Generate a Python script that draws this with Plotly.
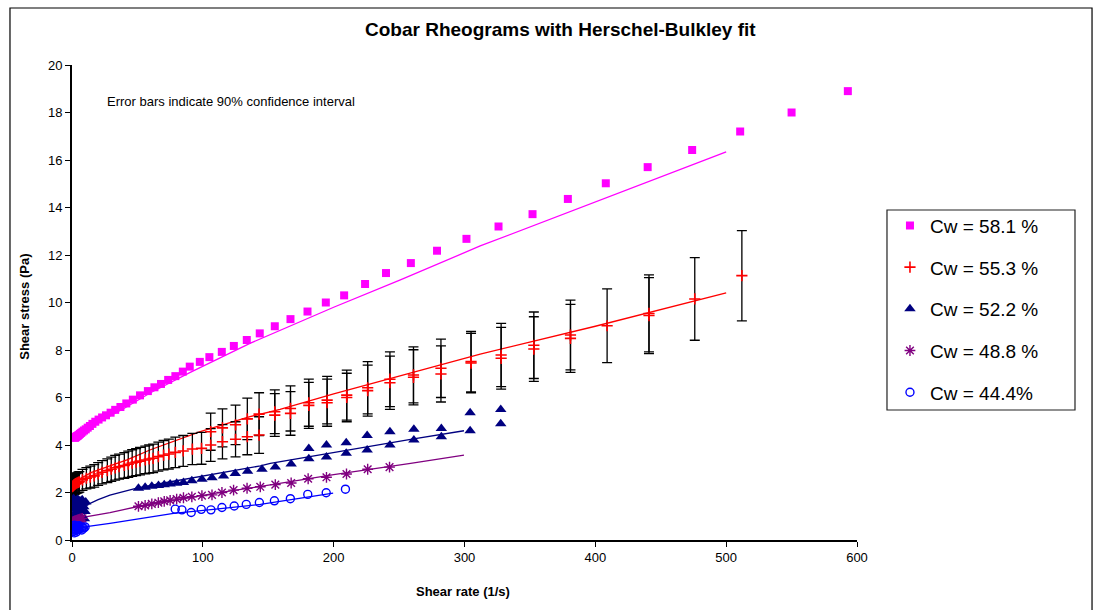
import plotly.graph_objects as go

# ---------------- data ----------------
# Cw = 58.1 %
mag_x = [2.2, 2.6, 3.0, 3.5, 4.0, 4.6, 5.3, 6.1, 7.0, 8.0, 9.2, 10.5, 12, 13.7, 15.6, 17.8, 20.3, 23, 26,
         29.5, 33, 37, 41.5, 46.5, 52, 58, 63, 68, 73.5, 79, 84.7, 90, 97.7, 105, 114.5, 123.7, 133.6,
         143.5, 155, 167, 180, 194, 208, 224, 240, 259, 279, 301.5, 326, 352, 379, 408, 440, 474,
         510.7, 550, 593]
mag_y = [4.30, 4.32, 4.34, 4.36, 4.38, 4.40, 4.43, 4.47, 4.51, 4.56, 4.61, 4.66, 4.73, 4.80, 4.89, 4.98,
         5.07, 5.16, 5.25, 5.36, 5.48, 5.60, 5.75, 5.91, 6.09, 6.27, 6.43, 6.57, 6.74, 6.90, 7.09, 7.30,
         7.50, 7.70, 7.92, 8.17, 8.42, 8.70, 9.00, 9.30, 9.62, 10.0, 10.3, 10.78, 11.24, 11.66, 12.18,
         12.68, 13.2, 13.72, 14.36, 15.02, 15.7, 16.42, 17.2, 18.0, 18.9]
mag_fit_x = [1, 5, 10, 20, 40, 60, 90, 136, 200, 251, 312, 403, 500]
mag_fit_y = [4.2, 4.42, 4.62, 4.95, 5.55, 6.2, 7.05, 8.28, 9.8, 10.95, 12.38, 14.3, 16.34]

# Cw = 55.3 %  (two runs)
red_a_x = [0.3, 0.6, 1.0, 1.4, 1.8, 2.3, 2.8, 3.4, 4.0, 4.8, 5.6, 8, 11, 14, 17, 20, 23, 27, 30, 33, 36,
           40, 43, 46, 49, 52, 56, 59, 62, 66, 70, 74, 79, 85, 92, 99, 106, 115, 125, 134, 143, 155, 167,
           181, 195, 210, 226, 243, 261, 282, 305, 328, 353, 381, 441]
red_a_y = [2.25, 2.27, 2.29, 2.31, 2.33, 2.35, 2.37, 2.39, 2.41, 2.43, 2.45, 2.53, 2.6, 2.65, 2.7, 2.78,
           2.85, 2.92, 2.98, 3.04, 3.09, 3.14, 3.19, 3.24, 3.28, 3.32, 3.37, 3.41, 3.44, 3.51, 3.57, 3.62,
           3.69, 3.75, 3.83, 3.86, 4.0, 4.14, 4.24, 4.35, 4.42, 5.26, 5.33, 5.67, 5.78, 6.0, 6.29, 6.62,
           6.85, 6.99, 7.45, 7.65, 8.04, 8.49, 9.45]
red_a_err = [0.40, 0.40, 0.40, 0.41, 0.41, 0.41, 0.42, 0.42, 0.42, 0.43, 0.43, 0.44, 0.45, 0.46, 0.47,
             0.48, 0.49, 0.50, 0.51, 0.52, 0.53, 0.54, 0.55, 0.56, 0.57, 0.58, 0.58, 0.59, 0.60, 0.61,
             0.62, 0.63, 0.64, 0.65, 0.66, 0.67, 0.69, 0.72, 0.74, 0.76, 0.77, 0.90, 0.92, 0.97, 0.99,
             1.02, 1.07, 1.12, 1.16, 1.18, 1.25, 1.30, 1.36, 1.43, 1.60]
red_b_x = [106, 115, 125, 134, 143, 155, 167, 181, 195, 210, 226, 243, 261, 282, 305, 328, 353, 381, 409,
           441, 476, 512]
red_b_y = [4.56, 4.72, 4.85, 5.1, 5.3, 5.4, 5.54, 5.78, 5.89, 6.1, 6.41, 6.77, 6.95, 7.23, 7.51, 7.79,
           8.2, 8.63, 9.02, 9.54, 10.15, 11.13]
red_b_err = [0.78, 0.80, 0.83, 0.87, 0.90, 0.92, 0.95, 0.99, 1.00, 1.05, 1.10, 1.15, 1.18, 1.23, 1.27,
             1.33, 1.40, 1.47, 1.55, 1.62, 1.74, 1.90]
red_fit_x = [0.5, 5, 15, 30, 42, 60, 98, 136, 159, 200, 250, 312, 400, 500]
red_fit_y = [2.25, 2.55, 2.85, 3.15, 3.37, 3.8, 4.56, 5.19, 5.5, 6.15, 6.9, 7.83, 9.0, 10.41]

# Cw = 52.2 %
navy_x = [0.5, 0.8, 1.0, 1.3, 1.6, 2.0, 2.4, 2.8, 3.2, 3.6, 4.0, 4.5, 5.0, 5.5, 6.0, 6.8, 7.5, 8.3, 9.0,
          10.0, 10.5, 1.2, 2.2, 3.0, 4.2, 5.2, 6.5, 7.8, 9.5, 50.8, 55.9, 61, 66.1, 70.5, 75, 80, 85.2,
          91.6, 99.3, 107, 115.8, 124.8, 134.2, 145.2, 155.4, 167.5, 181, 181, 194.5, 194.5, 209.6,
          209.6, 225.6, 225.6, 243, 243, 261.3, 261.3, 282.3, 282.3, 304.3, 304.3, 327.7, 327.7]
navy_y = [1.0, 1.55, 0.85, 1.3, 1.7, 1.1, 0.8, 1.45, 1.6, 1.2, 0.9, 1.5, 1.35, 1.05, 1.65, 1.25, 0.95,
          1.55, 1.4, 1.2, 1.6, 1.75, 1.35, 1.0, 1.72, 0.8, 1.45, 1.7, 0.9, 2.18, 2.22, 2.26, 2.3, 2.33,
          2.36, 2.39, 2.42, 2.5, 2.56, 2.62, 2.69, 2.8, 2.9, 2.98, 3.07, 3.2, 3.42, 3.85, 3.5, 4.0, 3.65,
          4.1, 3.79, 4.4, 4.0, 4.56, 4.21, 4.66, 4.35, 4.7, 4.6, 5.36, 4.9, 5.5]
navy_fit_x = [1, 5, 11, 20, 29, 40, 49.5, 70, 100, 144, 151.6, 200, 258.8, 299.6]
navy_fit_y = [1.15, 1.35, 1.47, 1.7, 1.89, 2.06, 2.18, 2.4, 2.7, 3.12, 3.23, 3.7, 4.24, 4.6]

# Cw = 48.8 %
pur_x = [0.5, 1, 1.5, 2, 3, 4, 5, 6, 7, 8, 50.8, 55.9, 61, 66, 70.5, 75, 80, 85.2, 91.6, 99.3, 107,
         114.6, 123.5, 133.8, 143.9, 155.4, 167.5, 180.5, 194.5, 209.8, 226, 242.7]
pur_y = [0.72, 0.76, 0.78, 0.8, 0.82, 0.84, 0.86, 0.88, 0.9, 0.91, 1.42, 1.46, 1.52, 1.57, 1.63, 1.67,
         1.72, 1.78, 1.82, 1.87, 1.9, 2.0, 2.1, 2.18, 2.24, 2.33, 2.4, 2.58, 2.64, 2.78, 2.98, 3.07]
pur_fit_x = [0.5, 5, 11.5, 29, 49.5, 80, 110, 151.6, 200, 258.8, 299.6]
pur_fit_y = [0.72, 0.85, 0.98, 1.15, 1.4, 1.7, 1.97, 2.32, 2.75, 3.23, 3.57]

# Cw = 44.4 %
blue_x = [0.5, 0.8, 1.0, 1.3, 1.6, 2.0, 2.5, 3.0, 3.5, 4.0, 4.5, 5.0, 6.0, 7.0, 8.0, 9.0, 10.0, 1.8,
          3.2, 5.5, 7.5, 78.9, 84, 91.1, 98.8, 106.2, 114.6, 124, 133.2, 143.2, 154.7, 166.9, 180.2,
          194.3, 209]
blue_y = [0.35, 0.5, 0.42, 0.6, 0.3, 0.48, 0.55, 0.4, 0.52, 0.45, 0.58, 0.5, 0.47, 0.55, 0.52, 0.5,
          0.55, 0.62, 0.33, 0.6, 0.42, 1.3, 1.27, 1.16, 1.29, 1.27, 1.37, 1.43, 1.5, 1.58, 1.65, 1.74,
          1.92, 1.99, 2.14]
blue_fit_x = [0.5, 5, 11, 29, 49.5, 77.6, 110, 144, 170, 199.6]
blue_fit_y = [0.4, 0.48, 0.56, 0.7, 0.87, 1.12, 1.3, 1.5, 1.72, 1.97]

x_ticks = [0, 100, 200, 300, 400, 500, 600]
y_ticks = [0, 2, 4, 6, 8, 10, 12, 14, 16, 18, 20]

# ---------------- figure ----------------
FONT = "Arial, Liberation Sans, sans-serif"
fig = go.Figure()

def fit(x, y, color, grp):
    fig.add_trace(go.Scatter(x=x, y=y, mode="lines", line=dict(color=color, width=1.3),
                             showlegend=False, legendgroup=grp, hoverinfo="skip"))

fit(mag_fit_x, mag_fit_y, "#FF00FF", "g1")
fit(red_fit_x, red_fit_y, "#FF0000", "g2")
fit(navy_fit_x, navy_fit_y, "#000080", "g3")
fit(pur_fit_x, pur_fit_y, "#800080", "g4")
fit(blue_fit_x, blue_fit_y, "#0000FF", "g5")

fig.add_trace(go.Scatter(x=mag_x, y=mag_y, mode="markers", name="Cw = 58.1 %", legendgroup="g1",
                         marker=dict(symbol="square", size=8, color="#FF00FF", line=dict(width=0))))
fig.add_trace(go.Scatter(x=red_a_x + red_b_x, y=red_a_y + red_b_y, mode="markers", name="Cw = 55.3 %",
                         legendgroup="g2",
                         marker=dict(symbol="cross-thin", size=8, color="#FF0000",
                                     line=dict(width=1.6, color="#FF0000")),
                         error_y=dict(type="data", array=red_a_err + red_b_err, visible=True,
                                      color="black", thickness=1.3, width=5)))
fig.add_trace(go.Scatter(x=navy_x, y=navy_y, mode="markers", name="Cw = 52.2 %", legendgroup="g3",
                         marker=dict(symbol="triangle-up", size=10, color="#000080", line=dict(width=0))))
fig.add_trace(go.Scatter(x=pur_x, y=pur_y, mode="markers", name="Cw = 48.8 %", legendgroup="g4",
                         marker=dict(symbol="asterisk", size=9, color="#800080",
                                     line=dict(width=1.4, color="#800080"))))
fig.add_trace(go.Scatter(x=blue_x, y=blue_y, mode="markers", name="Cw = 44.4%", legendgroup="g5",
                         marker=dict(symbol="circle-open", size=8, color="#0000FF",
                                     line=dict(width=1.4, color="#0000FF"))))

fig.update_layout(
    width=1095, height=610, autosize=False,
    margin=dict(l=72, r=238, t=65, b=70),
    paper_bgcolor="white", plot_bgcolor="white",
    font=dict(family=FONT, color="black", size=13),
    showlegend=True,
    legend=dict(x=1.042, y=0.702, xanchor="left", yanchor="top", traceorder="grouped",
                tracegroupgap=14, font=dict(size=19, family=FONT), bgcolor="rgba(0,0,0,0)",
                borderwidth=0, itemclick=False),
    xaxis=dict(range=[0, 600], tickvals=x_ticks, ticks="outside", ticklen=5, tickcolor="black",
               showline=True, linecolor="black", linewidth=1.5, showgrid=False, zeroline=False,
               tickfont=dict(size=13, family=FONT)),
    yaxis=dict(range=[0, 20], tickvals=y_ticks, ticks="outside", ticklen=5, tickcolor="black",
               showline=True, linecolor="black", linewidth=2, showgrid=False, zeroline=False,
               tickfont=dict(size=13, family=FONT)),
    shapes=[
        dict(type="rect", xref="paper", yref="paper", x0=-0.079, x1=1.2994, y0=-0.25, y1=1.12,
             line=dict(color="black", width=1.2), fillcolor="rgba(0,0,0,0)", layer="below"),
        dict(type="rect", xref="paper", yref="paper", x0=1.0382, x1=1.2777, y0=0.2737, y1=0.6947,
             line=dict(color="#222222", width=1.2), fillcolor="rgba(0,0,0,0)"),
    ],
    annotations=[
        dict(text="<b>Cobar Rheograms with Herschel-Bulkley fit</b>", xref="paper", yref="paper",
             x=0.622, y=1.0737, xanchor="center", yanchor="middle", showarrow=False,
             font=dict(size=19, family=FONT)),
        dict(text="Error bars indicate 90% confidence interval", xref="paper", yref="paper",
             x=0.042, y=0.924, xanchor="left", yanchor="middle", showarrow=False,
             font=dict(size=13, family=FONT)),
        dict(text="<b>Shear stress (Pa)</b>", xref="paper", yref="paper", x=-0.0605, y=0.49,
             xanchor="center", yanchor="middle", textangle=-90, showarrow=False,
             font=dict(size=13, family=FONT)),
        dict(text="<b>Shear rate (1/s)</b>", xref="paper", yref="paper", x=0.498, y=-0.109,
             xanchor="center", yanchor="middle", showarrow=False, font=dict(size=13, family=FONT)),
    ],
)

fig.write_html("out.html")
